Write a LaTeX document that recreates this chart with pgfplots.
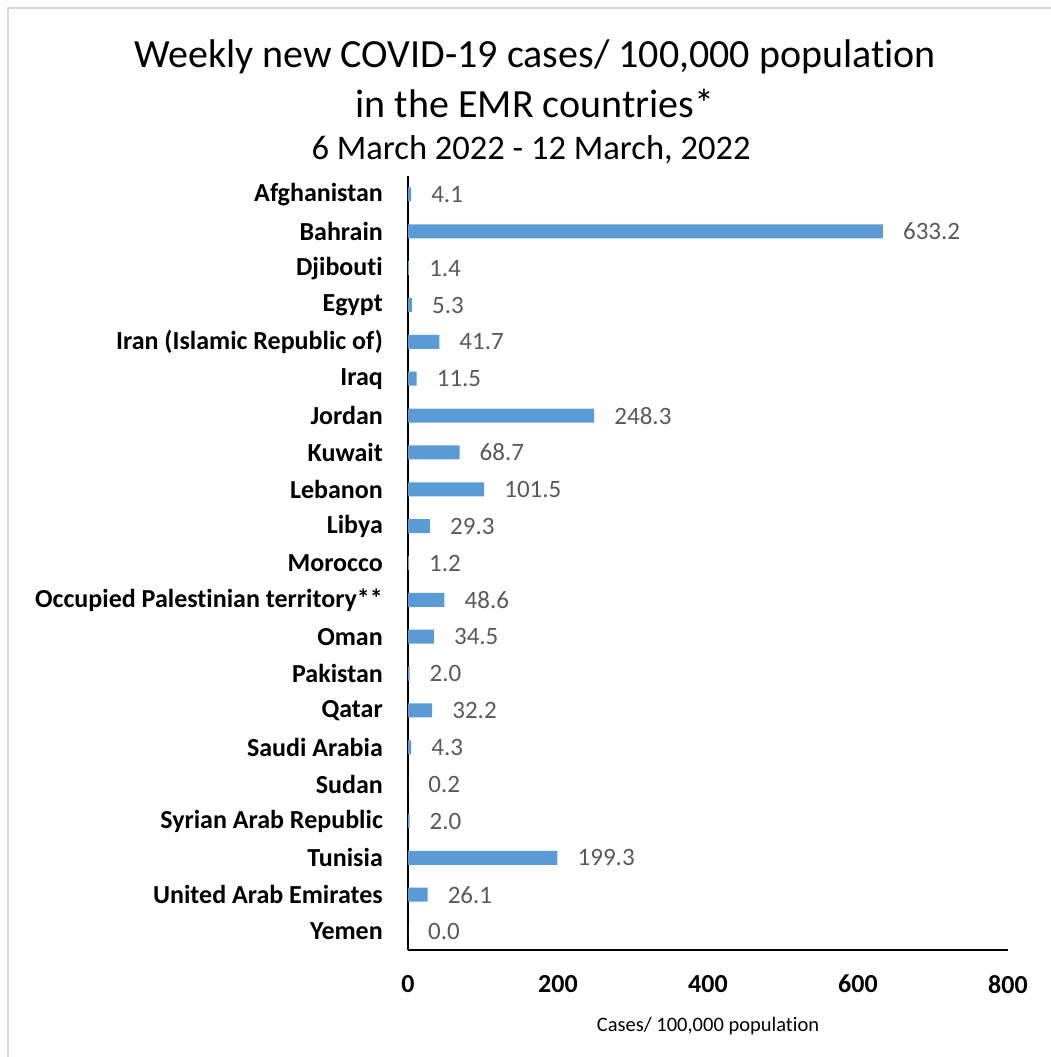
\documentclass[border=0pt]{standalone}
\usepackage{fontspec}
\setmainfont[Ligatures=NoCommon]{Carlito}
\usepackage{pgfplots}
\pgfplotsset{compat=1.18}
\definecolor{barblue}{HTML}{5B9BD5}
\definecolor{lblgrey}{HTML}{595959}
\begin{document}
\begin{tikzpicture}[x=1pt,y=1pt]
\path[use as bounding box] (0,0) rectangle (1051,-1057);
\draw[black!15, line width=2.5pt] (8,-1057) -- (8,-8) -- (1051,-8);
\node[font=\fontsize{40}{46}\selectfont] at (535,-57) {Weekly new COVID-19 cases/ 100,000 population};
\node[font=\fontsize{40}{46}\selectfont] at (535,-103) {in the EMR countries*};
\node[font=\fontsize{34.5}{40}\selectfont] at (531,-150) {6 March 2022 - 12 March, 2022};
\begin{axis}[
  at={(408pt,-950pt)}, anchor=south west,
  scale only axis, width=600pt, height=774pt,
  xbar, bar width=14pt,
  xmin=0, xmax=800, ymin=-0.5, ymax=20.5, y dir=reverse,
  axis x line*=bottom, axis y line*=left,
  axis line style={line width=1.6pt, -},
  xtick={0,200,400,600,800},
  ytick={0,...,20},
  yticklabels={Afghanistan,Bahrain,Djibouti,Egypt,Iran (Islamic Republic of),Iraq,Jordan,Kuwait,Lebanon,Libya,Morocco,Occupied Palestinian territory**,Oman,Pakistan,Qatar,Saudi Arabia,Sudan,Syrian Arab Republic,Tunisia,United Arab Emirates,Yemen},
  major tick length=0pt,
  /pgf/number format/assume math mode=true,
  xticklabel style={font=\fontsize{26}{30}\selectfont\bfseries, inner sep=0pt, yshift=-25pt},
  yticklabel style={font=\fontsize{26}{30}\selectfont\bfseries, inner sep=0pt, xshift=-25pt},
  xlabel={Cases/ 100,000 population},
  xlabel style={font=\fontsize{20.5}{24}\selectfont, yshift=-20pt},
  nodes near coords={\pgfmathprintnumber[fixed,zerofill,precision=1]{\pgfplotspointmeta}},
  every node near coord/.append style={font=\fontsize{25}{29}\selectfont, text=lblgrey, anchor=west, inner sep=0pt, xshift=20pt},
  clip=false,
]
\addplot[fill=barblue, draw=none] coordinates {
(4.1,0) (633.2,1) (1.4,2) (5.3,3) (41.7,4) (11.5,5) (248.3,6) (68.7,7) (101.5,8) (29.3,9) (1.2,10) (48.6,11) (34.5,12) (2.0,13) (32.2,14) (4.3,15) (0.2,16) (2.0,17) (199.3,18) (26.1,19) (0.0,20)
};
\end{axis}
\end{tikzpicture}
\end{document}
